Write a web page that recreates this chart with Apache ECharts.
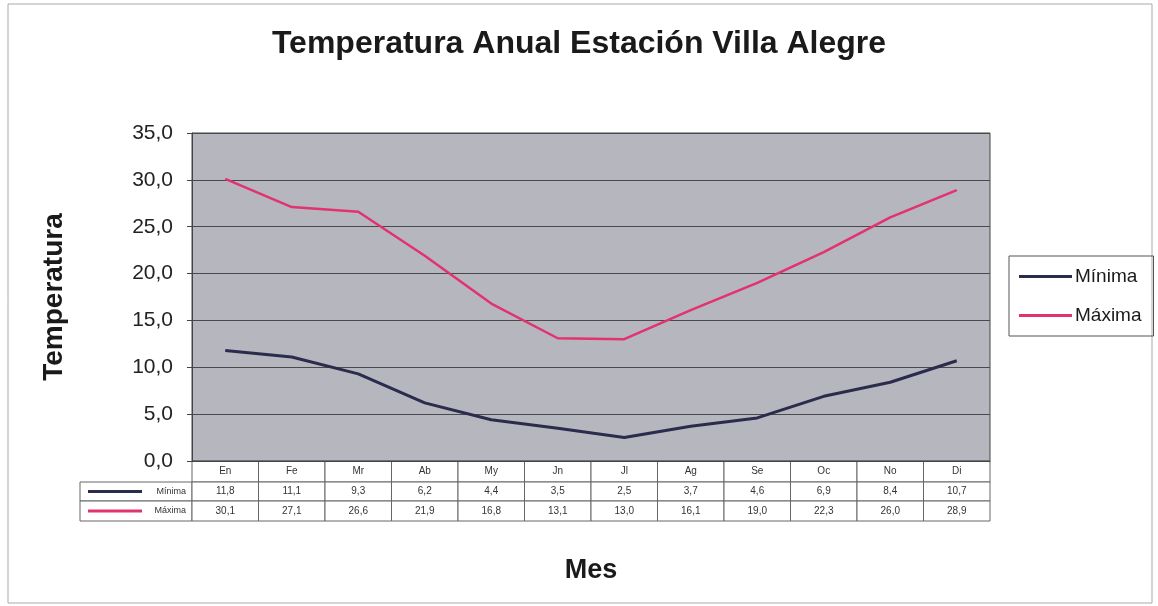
<!DOCTYPE html>
<html>
<head>
<meta charset="utf-8">
<script src="https://cdn.jsdelivr.net/npm/echarts@6/dist/echarts.min.js"></script>
<style>
  html, body { margin: 0; padding: 0; background: #fff; }
  #chart { width: 1158px; height: 606px; }
</style>
</head>
<body>
<div id="chart"></div>
<script>
const months = ['En', 'Fe', 'Mr', 'Ab', 'My', 'Jn', 'Jl', 'Ag', 'Se', 'Oc', 'No', 'Di']
const minima = [11.8, 11.1, 9.3, 6.2, 4.4, 3.5, 2.5, 3.7, 4.6, 6.9, 8.4, 10.7]
const maxima = [30.1, 27.1, 26.6, 21.9, 16.8, 13.1, 13.0, 16.1, 19.0, 22.3, 26.0, 28.9]
const seriesNames = ['Mínima', 'Máxima']
const seriesColors = ['#2b2b4e', '#e2326f']

const fmt = v => v.toFixed(1).replace('.', ',')

// plot area in px
const G = { left: 192, top: 133, right: 990, bottom: 461 }
const rowH = [21, 19, 20]
const keyLeft = 80

const chart = echarts.init(document.getElementById('chart'))

const option = {
  backgroundColor: '#fff',
  animation: false,
  title: {
    text: 'Temperatura Anual Estación Villa Alegre',
    left: 'center',
    top: 23,
    textStyle: { fontFamily: 'Liberation Sans', fontWeight: 'bold', fontSize: 32, color: '#1a1a1a' }
  },
  legend: {
    orient: 'vertical',
    left: 1009,
    top: 256,
    data: seriesNames,
    icon: 'rect',
    itemWidth: 53,
    itemHeight: 3,
    itemGap: 20,
    padding: [11, 12, 11, 10],
    borderColor: '#555',
    borderWidth: 1,
    textStyle: { fontFamily: 'Liberation Sans', fontSize: 19, color: '#1a1a1a', padding: [0, 0, 0, -2] }
  },
  grid: {
    left: G.left,
    top: G.top,
    width: G.right - G.left,
    height: G.bottom - G.top,
    show: true,
    backgroundColor: '#b6b6be',
    borderColor: '#444',
    borderWidth: 1
  },
  xAxis: {
    type: 'category',
    data: months,
    boundaryGap: true,
    name: 'Mes',
    nameLocation: 'middle',
    nameGap: 96,
    nameTextStyle: { fontFamily: 'Liberation Sans', fontWeight: 'bold', fontSize: 27, color: '#1a1a1a' },
    axisLine: { lineStyle: { color: '#444', width: 1 } },
    axisTick: { show: false },
    axisLabel: { show: false }
  },
  yAxis: {
    type: 'value',
    min: 0,
    max: 35,
    interval: 5,
    name: 'Temperatura',
    nameLocation: 'middle',
    nameGap: 124,
    nameRotate: 90,
    nameTextStyle: { fontFamily: 'Liberation Sans', fontWeight: 'bold', fontSize: 28, color: '#1a1a1a' },
    axisLine: { show: true, lineStyle: { color: '#444', width: 1 } },
    axisTick: { show: true, length: 5, lineStyle: { color: '#444' } },
    axisLabel: {
      formatter: v => fmt(v),
      margin: 19,
      fontFamily: 'Liberation Sans',
      fontSize: 21,
      color: '#222'
    },
    splitLine: { lineStyle: { color: '#4a4a4a', width: 1 } }
  },
  series: [
    {
      name: seriesNames[0],
      type: 'line',
      data: minima,
      symbol: 'none',
      color: seriesColors[0],
      lineStyle: { width: 3, color: seriesColors[0] }
    },
    {
      name: seriesNames[1],
      type: 'line',
      data: maxima,
      symbol: 'none',
      color: seriesColors[1],
      lineStyle: { width: 2.5, color: seriesColors[1] }
    }
  ]
}

chart.setOption(option)

// data table under the plot, columns taken from the category axis
const graphics = []
const cellStyle = { fill: '#fff', stroke: '#666', lineWidth: 1 }
const textStyleBase = { fontFamily: 'Liberation Sans', fontSize: 10, fill: '#333', align: 'center', verticalAlign: 'middle' }
const colW = (chart.convertToPixel({ xAxisIndex: 0 }, 1) - chart.convertToPixel({ xAxisIndex: 0 }, 0))
const rows = [months, minima.map(fmt), maxima.map(fmt)]
let y = G.bottom
rows.forEach((row, r) => {
  if (r > 0) {
    graphics.push({
      type: 'rect',
      shape: { x: keyLeft, y: y, width: G.left - keyLeft, height: rowH[r] },
      style: cellStyle
    })
    graphics.push({
      type: 'line',
      shape: { x1: keyLeft + 8, y1: y + rowH[r] / 2, x2: keyLeft + 62, y2: y + rowH[r] / 2 },
      style: { stroke: seriesColors[r - 1], lineWidth: 3 }
    })
    graphics.push({
      type: 'text',
      style: Object.assign({}, textStyleBase, { text: seriesNames[r - 1], x: G.left - 6, y: y + rowH[r] / 2, align: 'right', fontSize: 9 })
    })
  }
  row.forEach((val, i) => {
    const cx = chart.convertToPixel({ xAxisIndex: 0 }, i)
    graphics.push({
      type: 'rect',
      shape: { x: cx - colW / 2, y: y, width: colW, height: rowH[r] },
      style: cellStyle
    })
    graphics.push({
      type: 'text',
      style: Object.assign({}, textStyleBase, { text: String(val), x: cx, y: y + rowH[r] / 2 })
    })
  })
  y += rowH[r]
})
// outer frame
graphics.push({
  type: 'rect',
  z: -1,
  shape: { x: 8, y: 4, width: 1144, height: 599 },
  style: { fill: 'none', stroke: '#aaa', lineWidth: 1 }
})
chart.setOption({ graphic: graphics })
</script>
</body>
</html>
